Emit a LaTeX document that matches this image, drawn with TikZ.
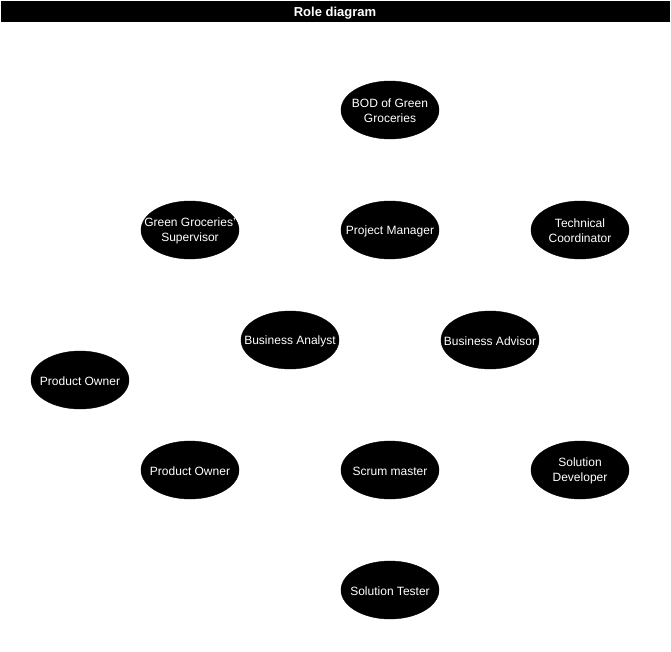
\documentclass[tikz,border=0pt]{standalone}
\usepackage{fontspec}
\setmainfont{Liberation Sans}
\usetikzlibrary{shapes.geometric}
\begin{document}
\begin{tikzpicture}[x=1pt,y=-1pt,
  role/.style={ellipse, draw=black, fill=black,
    minimum width=98pt, minimum height=58pt, inner sep=0pt,
    label={[roletext]center:#1}},
  roletext/.style={text=white, align=center, inner sep=0pt, yshift=-1pt,
    font=\fontsize{12}{15}\selectfont},
  titletext/.style={text=white, font=\bfseries\fontsize{13}{15}\selectfont}]
  \useasboundingbox (0,0) rectangle (671,651);
  % title bar
  \fill[black] (1,1) rectangle (670,22);
  \node[titletext] (title) at (335,13) {Role diagram};
  % roles
  \node[role={BOD of Green\\Groceries}] (bod) at (390,110) {};
  \node[role={Green Groceries'\\Supervisor}] (sup) at (190,230) {};
  \node[role={Project Manager}] (pm) at (390,230) {};
  \node[role={Technical\\Coordinator}] (tc) at (580,230) {};
  \node[role={Business Analyst}] (ba) at (290,340) {};
  \node[role={Business Advisor}] (badv) at (490,340) {};
  \node[role={Product Owner}] (po1) at (80,380) {};
  \node[role={Product Owner}] (po2) at (190,470) {};
  \node[role={Scrum master}] (sm) at (390,470) {};
  \node[role={Solution\\Developer}] (sd) at (580,470) {};
  \node[role={Solution Tester}] (st) at (390,590) {};
\end{tikzpicture}
\end{document}
